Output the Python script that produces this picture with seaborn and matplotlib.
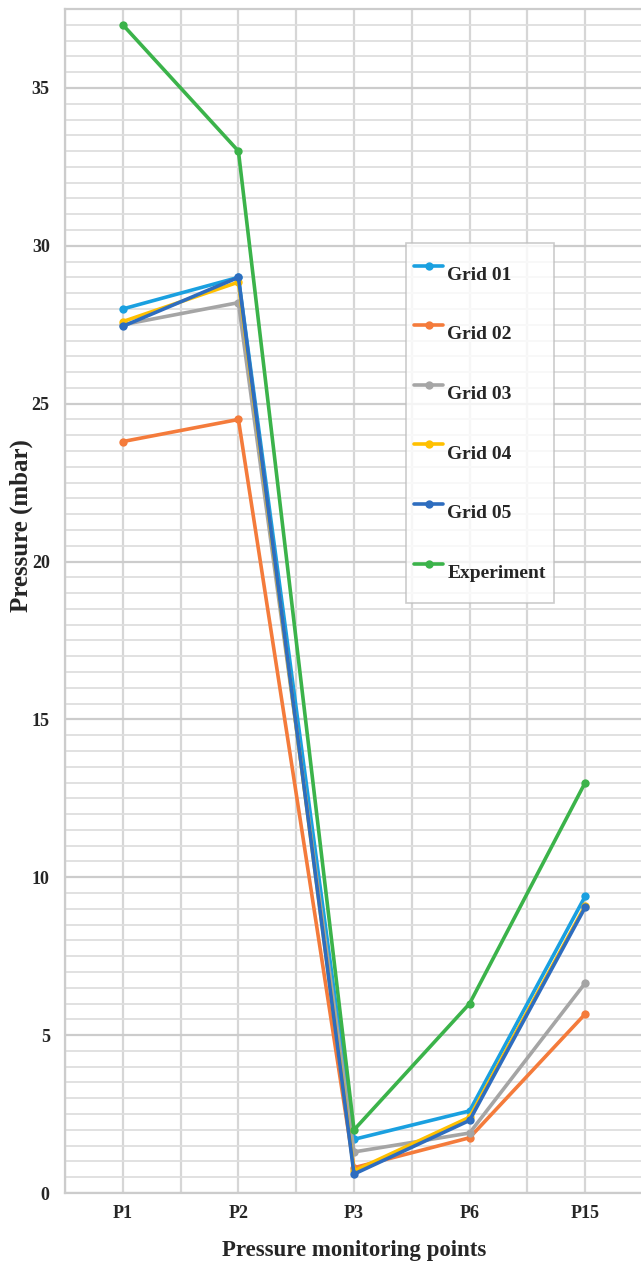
import pandas as pd
import matplotlib.pyplot as plt
import seaborn as sns
import numpy as np

points = ["P1", "P2", "P3", "P6", "P15"]
grid_01 = [28.0, 29.0, 1.7, 2.6, 9.4]
grid_02 = [23.8, 24.5, 0.8, 1.75, 5.67]
grid_03 = [27.5, 28.2, 1.3, 1.9, 6.65]
grid_04 = [27.6, 28.85, 0.7, 2.4, 9.1]
grid_05 = [27.45, 29.0, 0.6, 2.3, 9.05]
experiment = [37.0, 33.0, 2.0, 6.0, 13.0]

series = {
    "Grid 01": grid_01,
    "Grid 02": grid_02,
    "Grid 03": grid_03,
    "Grid 04": grid_04,
    "Grid 05": grid_05,
    "Experiment": experiment,
}
colors = {
    "Grid 01": "#1AA0E0",
    "Grid 02": "#F47B3B",
    "Grid 03": "#A5A5A5",
    "Grid 04": "#FFC000",
    "Grid 05": "#2E6DBF",
    "Experiment": "#3BB34A",
}

rows = []
for name, vals in series.items():
    for p, v in zip(points, vals):
        rows.append({"Point": p, "Pressure": v, "Series": name})
df = pd.DataFrame(rows)

sns.set_theme(style="white")
plt.rcParams["font.family"] = ["Liberation Serif", "DejaVu Serif"]
plt.rcParams["font.weight"] = "bold"

fig = plt.figure(figsize=(6.41, 12.65), dpi=100)
ax = fig.add_axes([65 / 641, 1 - 1193 / 1265, 578 / 641, 1184 / 1265])

sns.lineplot(data=df, x="Point", y="Pressure", hue="Series", palette=colors,
             hue_order=list(series.keys()), marker="o", markersize=6,
             markeredgewidth=0, linewidth=2.6, sort=False, ax=ax)

ax.set_xlim(-0.5, 4.5)
ax.set_ylim(0, 37.5)
ax.set_xticks(range(len(points)))
ax.set_xticklabels(points)
ax.set_xticks(np.arange(-0.5, 4.6, 1.0), minor=True)
ax.set_yticks(np.arange(0, 36, 5))
ax.set_yticks(np.arange(0, 37.6, 0.5), minor=True)
ax.grid(which="major", axis="y", color="#CCCCCC", linewidth=1.6)
ax.grid(which="both", axis="x", color="#D6D6D6", linewidth=1.6)
ax.grid(which="minor", axis="y", color="#DEDEDE", linewidth=1.3)
ax.set_axisbelow(True)
ax.tick_params(which="both", length=0)
ax.tick_params(axis="x", pad=9, labelsize=13)
ax.tick_params(axis="y", pad=11, labelsize=13)
for s in ax.spines.values():
    s.set_color("#CCCCCC")
    s.set_linewidth(1.6)

ax.set_xlabel("Pressure monitoring points", fontsize=16.5, fontweight="bold")
ax.xaxis.set_label_coords(0.5, -0.0395)
ax.set_ylabel("Pressure (mbar)", fontsize=18, fontweight="bold")
ax.yaxis.set_label_coords(-0.055, 0.564)

leg = ax.legend(loc="upper left", bbox_to_anchor=(0.59, 0.802), borderaxespad=0,
                fontsize=14, labelspacing=0.74, handlelength=1.5, handleheight=3.2,
                handletextpad=0.2, borderpad=0.42, fancybox=False, frameon=True)
leg.get_frame().set_edgecolor("#BFBFBF")
leg.get_frame().set_linewidth(1.2)
for t in leg.get_texts():
    t.set_fontweight("bold")

fig.savefig("out.png", dpi=100)
